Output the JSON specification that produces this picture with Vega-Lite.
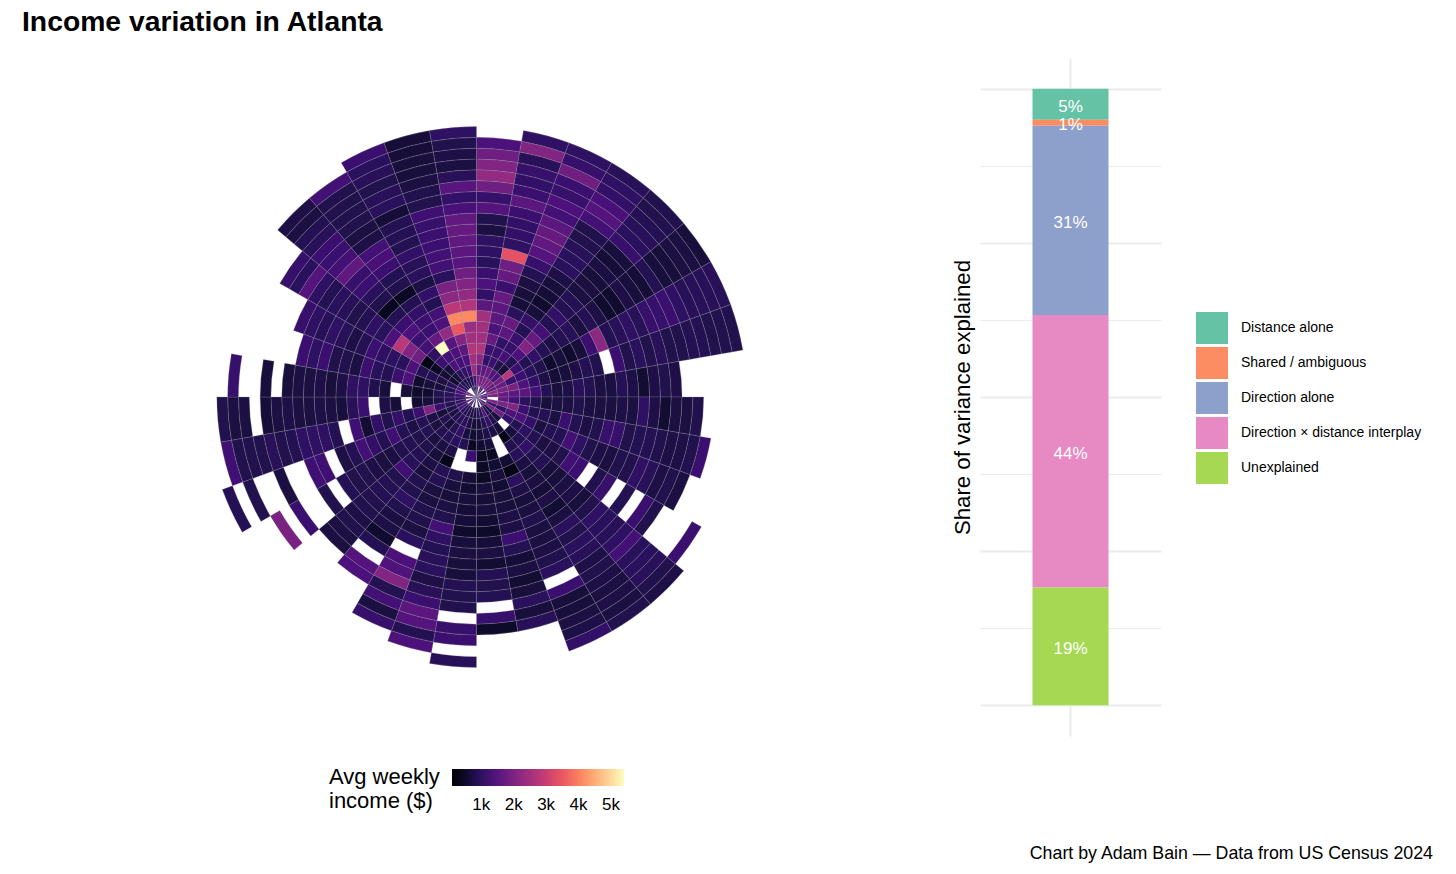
{"$schema":"https://vega.github.io/schema/vega-lite/v6.json","background":"white","padding":{"left":22,"top":7,"right":0,"bottom":0},"title":{"text":"Income variation in Atlanta","anchor":"start","frame":"group","font":"Liberation Sans","fontSize":28.3,"fontWeight":"bold","color":"#000000","offset":21},"config":{"view":{"stroke":null},"font":"Liberation Sans"},"hconcat":[{"width":909,"height":678,"data":{"values":[
{"dir":0,"ring":0,"inc":1360},{"dir":0,"ring":1,"inc":1960},{"dir":0,"ring":2,"inc":1700},{"dir":0,"ring":3,"inc":2200},{"dir":0,"ring":4,"inc":2700},{"dir":0,"ring":5,"inc":2500},{"dir":0,"ring":6,"inc":2500},{"dir":0,"ring":7,"inc":2500},{"dir":0,"ring":8,"inc":1580},{"dir":0,"ring":9,"inc":1060},{"dir":0,"ring":10,"inc":1360},{"dir":0,"ring":11,"inc":1160},{"dir":0,"ring":12,"inc":960},{"dir":0,"ring":13,"inc":1010},{"dir":0,"ring":14,"inc":1010},{"dir":0,"ring":15,"inc":720},{"dir":0,"ring":16,"inc":820},{"dir":0,"ring":17,"inc":1480},{"dir":0,"ring":18,"inc":1110},{"dir":0,"ring":19,"inc":1830},{"dir":0,"ring":20,"inc":2300},{"dir":0,"ring":21,"inc":2080},{"dir":0,"ring":22,"inc":1830},{"dir":0,"ring":23,"inc":1360},
{"dir":1,"ring":1,"inc":1830},{"dir":1,"ring":2,"inc":1580},{"dir":1,"ring":3,"inc":1060},{"dir":1,"ring":4,"inc":1160},{"dir":1,"ring":5,"inc":1700},{"dir":1,"ring":6,"inc":1360},{"dir":1,"ring":7,"inc":1580},{"dir":1,"ring":8,"inc":1580},{"dir":1,"ring":9,"inc":1700},{"dir":1,"ring":10,"inc":1160},{"dir":1,"ring":11,"inc":1700},{"dir":1,"ring":12,"inc":1830},{"dir":1,"ring":13,"inc":3400},{"dir":1,"ring":14,"inc":1010},{"dir":1,"ring":15,"inc":1060},{"dir":1,"ring":16,"inc":1060},{"dir":1,"ring":17,"inc":1160},{"dir":1,"ring":18,"inc":1580},{"dir":1,"ring":19,"inc":1160},{"dir":1,"ring":20,"inc":1060},{"dir":1,"ring":21,"inc":1110},{"dir":1,"ring":22,"inc":920},{"dir":1,"ring":23,"inc":2080},{"dir":1,"ring":24,"inc":1010},
{"dir":2,"ring":0,"inc":1360},{"dir":2,"ring":1,"inc":1960},{"dir":2,"ring":2,"inc":1700},{"dir":2,"ring":3,"inc":1160},{"dir":2,"ring":4,"inc":1160},{"dir":2,"ring":5,"inc":1060},{"dir":2,"ring":6,"inc":1580},{"dir":2,"ring":7,"inc":1700},{"dir":2,"ring":8,"inc":960},{"dir":2,"ring":9,"inc":640},{"dir":2,"ring":10,"inc":680},{"dir":2,"ring":11,"inc":720},{"dir":2,"ring":12,"inc":870},{"dir":2,"ring":13,"inc":1110},{"dir":2,"ring":14,"inc":1480},{"dir":2,"ring":15,"inc":1640},{"dir":2,"ring":16,"inc":1700},{"dir":2,"ring":17,"inc":1580},{"dir":2,"ring":18,"inc":1260},{"dir":2,"ring":19,"inc":1360},{"dir":2,"ring":20,"inc":1110},{"dir":2,"ring":21,"inc":1160},{"dir":2,"ring":22,"inc":1830},{"dir":2,"ring":23,"inc":1110},{"dir":2,"ring":24,"inc":1010},
{"dir":3,"ring":0,"inc":1060},{"dir":3,"ring":1,"inc":1960},{"dir":3,"ring":2,"inc":1480},{"dir":3,"ring":3,"inc":820},{"dir":3,"ring":4,"inc":1260},{"dir":3,"ring":5,"inc":1110},{"dir":3,"ring":6,"inc":1160},{"dir":3,"ring":7,"inc":870},{"dir":3,"ring":8,"inc":1060},{"dir":3,"ring":9,"inc":680},{"dir":3,"ring":10,"inc":560},{"dir":3,"ring":11,"inc":640},{"dir":3,"ring":12,"inc":680},{"dir":3,"ring":13,"inc":770},{"dir":3,"ring":14,"inc":960},{"dir":3,"ring":15,"inc":960},{"dir":3,"ring":16,"inc":920},{"dir":3,"ring":17,"inc":820},{"dir":3,"ring":18,"inc":820},{"dir":3,"ring":19,"inc":1260},{"dir":3,"ring":20,"inc":1480},{"dir":3,"ring":21,"inc":1310},{"dir":3,"ring":22,"inc":1060},{"dir":3,"ring":23,"inc":1010},{"dir":3,"ring":24,"inc":920},
{"dir":4,"ring":1,"inc":1960},{"dir":4,"ring":2,"inc":1360},{"dir":4,"ring":3,"inc":680},{"dir":4,"ring":4,"inc":870},{"dir":4,"ring":5,"inc":1360},{"dir":4,"ring":6,"inc":2080},{"dir":4,"ring":7,"inc":1700},{"dir":4,"ring":8,"inc":1260},{"dir":4,"ring":9,"inc":870},{"dir":4,"ring":10,"inc":1060},{"dir":4,"ring":11,"inc":870},{"dir":4,"ring":12,"inc":870},{"dir":4,"ring":13,"inc":720},{"dir":4,"ring":14,"inc":720},{"dir":4,"ring":15,"inc":680},{"dir":4,"ring":16,"inc":720},{"dir":4,"ring":17,"inc":640},{"dir":4,"ring":18,"inc":680},{"dir":4,"ring":19,"inc":1110},{"dir":4,"ring":20,"inc":960},{"dir":4,"ring":21,"inc":920},{"dir":4,"ring":22,"inc":870},{"dir":4,"ring":23,"inc":820},{"dir":4,"ring":24,"inc":820},
{"dir":5,"ring":0,"inc":1360},{"dir":5,"ring":1,"inc":1700},{"dir":5,"ring":2,"inc":1830},{"dir":5,"ring":3,"inc":2800},{"dir":5,"ring":4,"inc":1160},{"dir":5,"ring":5,"inc":870},{"dir":5,"ring":6,"inc":1060},{"dir":5,"ring":7,"inc":870},{"dir":5,"ring":8,"inc":770},{"dir":5,"ring":9,"inc":870},{"dir":5,"ring":10,"inc":920},{"dir":5,"ring":11,"inc":720},{"dir":5,"ring":12,"inc":870},{"dir":5,"ring":13,"inc":770},{"dir":5,"ring":14,"inc":560},{"dir":5,"ring":15,"inc":560},{"dir":5,"ring":16,"inc":770},{"dir":5,"ring":17,"inc":680},{"dir":5,"ring":18,"inc":640},{"dir":5,"ring":19,"inc":870},{"dir":5,"ring":20,"inc":680},{"dir":5,"ring":21,"inc":680},{"dir":5,"ring":22,"inc":720},{"dir":5,"ring":23,"inc":720},{"dir":5,"ring":24,"inc":680},
{"dir":6,"ring":1,"inc":1700},{"dir":6,"ring":2,"inc":1700},{"dir":6,"ring":3,"inc":1160},{"dir":6,"ring":4,"inc":1160},{"dir":6,"ring":5,"inc":960},{"dir":6,"ring":6,"inc":820},{"dir":6,"ring":7,"inc":560},{"dir":6,"ring":8,"inc":680},{"dir":6,"ring":9,"inc":560},{"dir":6,"ring":10,"inc":680},{"dir":6,"ring":11,"inc":1160},{"dir":6,"ring":12,"inc":2200},{"dir":6,"ring":13,"inc":870},{"dir":6,"ring":14,"inc":920},{"dir":6,"ring":15,"inc":1010},{"dir":6,"ring":16,"inc":920},{"dir":6,"ring":17,"inc":1110},{"dir":6,"ring":18,"inc":1110},{"dir":6,"ring":19,"inc":1160},{"dir":6,"ring":20,"inc":1010},{"dir":6,"ring":21,"inc":920},{"dir":6,"ring":22,"inc":920},{"dir":6,"ring":23,"inc":920},{"dir":6,"ring":24,"inc":920},
{"dir":7,"ring":0,"inc":1360},{"dir":7,"ring":1,"inc":2200},{"dir":7,"ring":2,"inc":1960},{"dir":7,"ring":3,"inc":1960},{"dir":7,"ring":4,"inc":1360},{"dir":7,"ring":5,"inc":1060},{"dir":7,"ring":6,"inc":770},{"dir":7,"ring":7,"inc":640},{"dir":7,"ring":8,"inc":680},{"dir":7,"ring":9,"inc":770},{"dir":7,"ring":10,"inc":870},{"dir":7,"ring":11,"inc":820},{"dir":7,"ring":13,"inc":1160},{"dir":7,"ring":14,"inc":820},{"dir":7,"ring":15,"inc":960},{"dir":7,"ring":16,"inc":820},{"dir":7,"ring":17,"inc":920},{"dir":7,"ring":18,"inc":820},{"dir":7,"ring":19,"inc":820},{"dir":7,"ring":20,"inc":870},{"dir":7,"ring":21,"inc":870},{"dir":7,"ring":22,"inc":820},{"dir":7,"ring":23,"inc":820},{"dir":7,"ring":24,"inc":820},
{"dir":8,"ring":0,"inc":1580},{"dir":8,"ring":1,"inc":1960},{"dir":8,"ring":2,"inc":1700},{"dir":8,"ring":3,"inc":1580},{"dir":8,"ring":4,"inc":1580},{"dir":8,"ring":5,"inc":1260},{"dir":8,"ring":6,"inc":870},{"dir":8,"ring":7,"inc":680},{"dir":8,"ring":8,"inc":770},{"dir":8,"ring":9,"inc":920},{"dir":8,"ring":10,"inc":870},{"dir":8,"ring":11,"inc":720},{"dir":8,"ring":12,"inc":720},{"dir":8,"ring":13,"inc":870},{"dir":8,"ring":14,"inc":770},{"dir":8,"ring":15,"inc":600},{"dir":8,"ring":16,"inc":770},{"dir":8,"ring":17,"inc":820},{"dir":8,"ring":18,"inc":770},
{"dir":9,"ring":0,"inc":1360},{"dir":9,"ring":2,"inc":1700},{"dir":9,"ring":3,"inc":1260},{"dir":9,"ring":4,"inc":960},{"dir":9,"ring":5,"inc":820},{"dir":9,"ring":6,"inc":680},{"dir":9,"ring":7,"inc":720},{"dir":9,"ring":8,"inc":720},{"dir":9,"ring":9,"inc":820},{"dir":9,"ring":10,"inc":720},{"dir":9,"ring":11,"inc":720},{"dir":9,"ring":12,"inc":720},{"dir":9,"ring":13,"inc":770},{"dir":9,"ring":14,"inc":720},{"dir":9,"ring":15,"inc":1010},{"dir":9,"ring":16,"inc":770},{"dir":9,"ring":17,"inc":600},{"dir":9,"ring":18,"inc":720},{"dir":9,"ring":19,"inc":720},{"dir":9,"ring":20,"inc":820},
{"dir":10,"ring":0,"inc":1700},{"dir":10,"ring":1,"inc":1960},{"dir":10,"ring":2,"inc":1960},{"dir":10,"ring":3,"inc":2080},{"dir":10,"ring":4,"inc":1160},{"dir":10,"ring":5,"inc":870},{"dir":10,"ring":6,"inc":870},{"dir":10,"ring":7,"inc":720},{"dir":10,"ring":8,"inc":1160},{"dir":10,"ring":9,"inc":870},{"dir":10,"ring":10,"inc":770},{"dir":10,"ring":11,"inc":820},{"dir":10,"ring":12,"inc":1110},{"dir":10,"ring":13,"inc":1110},{"dir":10,"ring":14,"inc":820},{"dir":10,"ring":15,"inc":870},{"dir":10,"ring":16,"inc":870},{"dir":10,"ring":17,"inc":820},{"dir":10,"ring":18,"inc":770},{"dir":10,"ring":19,"inc":770},{"dir":10,"ring":20,"inc":820},{"dir":10,"ring":21,"inc":1160},
{"dir":11,"ring":1,"inc":1160},{"dir":11,"ring":2,"inc":1060},{"dir":11,"ring":3,"inc":1360},{"dir":11,"ring":4,"inc":1360},{"dir":11,"ring":5,"inc":1060},{"dir":11,"ring":6,"inc":720},{"dir":11,"ring":7,"inc":870},{"dir":11,"ring":8,"inc":870},{"dir":11,"ring":9,"inc":1260},{"dir":11,"ring":10,"inc":1010},{"dir":11,"ring":11,"inc":820},{"dir":11,"ring":12,"inc":770},{"dir":11,"ring":13,"inc":720},{"dir":11,"ring":14,"inc":820},{"dir":11,"ring":15,"inc":820},{"dir":11,"ring":16,"inc":1010},{"dir":11,"ring":17,"inc":920},{"dir":11,"ring":18,"inc":770},{"dir":11,"ring":19,"inc":820},{"dir":11,"ring":20,"inc":720},
{"dir":12,"ring":0,"inc":1060},{"dir":12,"ring":1,"inc":1960},{"dir":12,"ring":2,"inc":1830},{"dir":12,"ring":3,"inc":1060},{"dir":12,"ring":4,"inc":870},{"dir":12,"ring":5,"inc":1010},{"dir":12,"ring":6,"inc":870},{"dir":12,"ring":7,"inc":720},{"dir":12,"ring":8,"inc":770},{"dir":12,"ring":9,"inc":820},{"dir":12,"ring":10,"inc":1210},{"dir":12,"ring":11,"inc":1160},{"dir":12,"ring":13,"inc":820},{"dir":12,"ring":14,"inc":1110},{"dir":12,"ring":16,"inc":870},{"dir":12,"ring":18,"inc":1160},{"dir":12,"ring":19,"inc":820},{"dir":12,"ring":23,"inc":1160},
{"dir":13,"ring":0,"inc":1700},{"dir":13,"ring":1,"inc":770},{"dir":13,"ring":2,"inc":680},{"dir":13,"ring":4,"inc":680},{"dir":13,"ring":5,"inc":870},{"dir":13,"ring":6,"inc":1060},{"dir":13,"ring":7,"inc":820},{"dir":13,"ring":8,"inc":870},{"dir":13,"ring":9,"inc":680},{"dir":13,"ring":10,"inc":680},{"dir":13,"ring":11,"inc":720},{"dir":13,"ring":12,"inc":770},{"dir":13,"ring":13,"inc":680},{"dir":13,"ring":14,"inc":820},{"dir":13,"ring":15,"inc":1010},{"dir":13,"ring":16,"inc":960},{"dir":13,"ring":17,"inc":920},{"dir":13,"ring":18,"inc":1010},{"dir":13,"ring":19,"inc":1260},{"dir":13,"ring":20,"inc":960},{"dir":13,"ring":21,"inc":960},{"dir":13,"ring":22,"inc":920},{"dir":13,"ring":23,"inc":820},{"dir":13,"ring":24,"inc":770},
{"dir":14,"ring":0,"inc":1160},{"dir":14,"ring":1,"inc":870},{"dir":14,"ring":2,"inc":870},{"dir":14,"ring":3,"inc":640},{"dir":14,"ring":4,"inc":300},{"dir":14,"ring":5,"inc":820},{"dir":14,"ring":6,"inc":920},{"dir":14,"ring":7,"inc":720},{"dir":14,"ring":8,"inc":680},{"dir":14,"ring":9,"inc":720},{"dir":14,"ring":10,"inc":640},{"dir":14,"ring":11,"inc":770},{"dir":14,"ring":12,"inc":600},{"dir":14,"ring":13,"inc":720},{"dir":14,"ring":14,"inc":960},{"dir":14,"ring":15,"inc":820},{"dir":14,"ring":16,"inc":960},{"dir":14,"ring":17,"inc":920},{"dir":14,"ring":18,"inc":770},{"dir":14,"ring":19,"inc":820},{"dir":14,"ring":20,"inc":770},{"dir":14,"ring":21,"inc":720},{"dir":14,"ring":22,"inc":770},{"dir":14,"ring":23,"inc":720},{"dir":14,"ring":24,"inc":820},
{"dir":15,"ring":1,"inc":1480},{"dir":15,"ring":2,"inc":1060},{"dir":15,"ring":3,"inc":770},{"dir":15,"ring":6,"inc":600},{"dir":15,"ring":7,"inc":300},{"dir":15,"ring":8,"inc":960},{"dir":15,"ring":9,"inc":770},{"dir":15,"ring":10,"inc":680},{"dir":15,"ring":11,"inc":720},{"dir":15,"ring":12,"inc":820},{"dir":15,"ring":13,"inc":720},{"dir":15,"ring":14,"inc":720},{"dir":15,"ring":15,"inc":770},{"dir":15,"ring":16,"inc":820},{"dir":15,"ring":17,"inc":960},{"dir":15,"ring":19,"inc":1160},{"dir":15,"ring":20,"inc":680},{"dir":15,"ring":21,"inc":680},{"dir":15,"ring":22,"inc":720},{"dir":15,"ring":23,"inc":770},{"dir":15,"ring":24,"inc":1060},
{"dir":16,"ring":0,"inc":870},{"dir":16,"ring":1,"inc":870},{"dir":16,"ring":2,"inc":870},{"dir":16,"ring":3,"inc":770},{"dir":16,"ring":4,"inc":680},{"dir":16,"ring":5,"inc":450},{"dir":16,"ring":6,"inc":600},{"dir":16,"ring":7,"inc":680},{"dir":16,"ring":8,"inc":600},{"dir":16,"ring":9,"inc":680},{"dir":16,"ring":10,"inc":680},{"dir":16,"ring":11,"inc":770},{"dir":16,"ring":12,"inc":770},{"dir":16,"ring":13,"inc":1160},{"dir":16,"ring":14,"inc":870},{"dir":16,"ring":15,"inc":640},{"dir":16,"ring":16,"inc":720},{"dir":16,"ring":17,"inc":600},{"dir":16,"ring":18,"inc":680},{"dir":16,"ring":19,"inc":960},{"dir":16,"ring":20,"inc":680},{"dir":16,"ring":21,"inc":920},
{"dir":17,"ring":1,"inc":960},{"dir":17,"ring":2,"inc":680},{"dir":17,"ring":3,"inc":680},{"dir":17,"ring":4,"inc":600},{"dir":17,"ring":5,"inc":450},{"dir":17,"ring":6,"inc":450},{"dir":17,"ring":7,"inc":450},{"dir":17,"ring":8,"inc":680},{"dir":17,"ring":9,"inc":640},{"dir":17,"ring":10,"inc":680},{"dir":17,"ring":11,"inc":600},{"dir":17,"ring":12,"inc":500},{"dir":17,"ring":13,"inc":640},{"dir":17,"ring":14,"inc":720},{"dir":17,"ring":15,"inc":600},{"dir":17,"ring":16,"inc":870},{"dir":17,"ring":17,"inc":820},{"dir":17,"ring":18,"inc":870},{"dir":17,"ring":20,"inc":1110},{"dir":17,"ring":21,"inc":500},
{"dir":18,"ring":1,"inc":770},{"dir":18,"ring":2,"inc":640},{"dir":18,"ring":3,"inc":600},{"dir":18,"ring":4,"inc":450},{"dir":18,"ring":5,"inc":1160},{"dir":18,"ring":7,"inc":640},{"dir":18,"ring":8,"inc":600},{"dir":18,"ring":9,"inc":680},{"dir":18,"ring":10,"inc":640},{"dir":18,"ring":11,"inc":640},{"dir":18,"ring":12,"inc":520},{"dir":18,"ring":13,"inc":680},{"dir":18,"ring":14,"inc":720},{"dir":18,"ring":15,"inc":680},{"dir":18,"ring":16,"inc":680},{"dir":18,"ring":17,"inc":870},{"dir":18,"ring":18,"inc":820},{"dir":18,"ring":19,"inc":820},{"dir":18,"ring":21,"inc":1110},{"dir":18,"ring":22,"inc":1160},{"dir":18,"ring":24,"inc":920},
{"dir":19,"ring":0,"inc":960},{"dir":19,"ring":1,"inc":770},{"dir":19,"ring":2,"inc":770},{"dir":19,"ring":3,"inc":680},{"dir":19,"ring":4,"inc":870},{"dir":19,"ring":7,"inc":820},{"dir":19,"ring":8,"inc":680},{"dir":19,"ring":9,"inc":680},{"dir":19,"ring":10,"inc":720},{"dir":19,"ring":11,"inc":820},{"dir":19,"ring":12,"inc":1260},{"dir":19,"ring":13,"inc":1010},{"dir":19,"ring":14,"inc":870},{"dir":19,"ring":15,"inc":920},{"dir":19,"ring":16,"inc":960},{"dir":19,"ring":17,"inc":770},{"dir":19,"ring":18,"inc":920},{"dir":19,"ring":19,"inc":1160},{"dir":19,"ring":20,"inc":1580},{"dir":19,"ring":21,"inc":1480},{"dir":19,"ring":22,"inc":870},{"dir":19,"ring":23,"inc":1360},
{"dir":20,"ring":1,"inc":870},{"dir":20,"ring":2,"inc":960},{"dir":20,"ring":3,"inc":1060},{"dir":20,"ring":4,"inc":960},{"dir":20,"ring":5,"inc":770},{"dir":20,"ring":6,"inc":350},{"dir":20,"ring":7,"inc":870},{"dir":20,"ring":8,"inc":870},{"dir":20,"ring":9,"inc":720},{"dir":20,"ring":10,"inc":720},{"dir":20,"ring":11,"inc":820},{"dir":20,"ring":12,"inc":820},{"dir":20,"ring":13,"inc":720},{"dir":20,"ring":14,"inc":960},{"dir":20,"ring":16,"inc":1360},{"dir":20,"ring":17,"inc":1420},{"dir":20,"ring":18,"inc":2080},{"dir":20,"ring":19,"inc":870},{"dir":20,"ring":20,"inc":1260},{"dir":20,"ring":21,"inc":720},{"dir":20,"ring":22,"inc":1110},
{"dir":21,"ring":0,"inc":1160},{"dir":21,"ring":1,"inc":870},{"dir":21,"ring":2,"inc":960},{"dir":21,"ring":3,"inc":870},{"dir":21,"ring":4,"inc":870},{"dir":21,"ring":5,"inc":720},{"dir":21,"ring":6,"inc":680},{"dir":21,"ring":7,"inc":770},{"dir":21,"ring":8,"inc":680},{"dir":21,"ring":9,"inc":820},{"dir":21,"ring":10,"inc":820},{"dir":21,"ring":11,"inc":1010},{"dir":21,"ring":12,"inc":820},{"dir":21,"ring":13,"inc":720},{"dir":21,"ring":14,"inc":770},{"dir":21,"ring":15,"inc":560},{"dir":21,"ring":16,"inc":870},{"dir":21,"ring":18,"inc":1480},{"dir":21,"ring":19,"inc":1360},
{"dir":22,"ring":0,"inc":1360},{"dir":22,"ring":1,"inc":960},{"dir":22,"ring":2,"inc":870},{"dir":22,"ring":3,"inc":680},{"dir":22,"ring":4,"inc":870},{"dir":22,"ring":5,"inc":720},{"dir":22,"ring":6,"inc":820},{"dir":22,"ring":7,"inc":870},{"dir":22,"ring":8,"inc":920},{"dir":22,"ring":9,"inc":1210},{"dir":22,"ring":10,"inc":820},{"dir":22,"ring":11,"inc":870},{"dir":22,"ring":12,"inc":870},{"dir":22,"ring":13,"inc":820},{"dir":22,"ring":14,"inc":820},{"dir":22,"ring":15,"inc":770},{"dir":22,"ring":16,"inc":820},{"dir":22,"ring":17,"inc":720},{"dir":22,"ring":18,"inc":720},
{"dir":23,"ring":1,"inc":1360},{"dir":23,"ring":2,"inc":770},{"dir":23,"ring":3,"inc":870},{"dir":23,"ring":4,"inc":720},{"dir":23,"ring":5,"inc":870},{"dir":23,"ring":6,"inc":820},{"dir":23,"ring":7,"inc":870},{"dir":23,"ring":8,"inc":820},{"dir":23,"ring":9,"inc":720},{"dir":23,"ring":10,"inc":720},{"dir":23,"ring":11,"inc":770},{"dir":23,"ring":12,"inc":820},{"dir":23,"ring":13,"inc":820},{"dir":23,"ring":14,"inc":870},{"dir":23,"ring":16,"inc":820},{"dir":23,"ring":19,"inc":1160},{"dir":23,"ring":21,"inc":1960},
{"dir":24,"ring":0,"inc":1160},{"dir":24,"ring":1,"inc":1060},{"dir":24,"ring":2,"inc":820},{"dir":24,"ring":3,"inc":680},{"dir":24,"ring":4,"inc":770},{"dir":24,"ring":5,"inc":870},{"dir":24,"ring":6,"inc":770},{"dir":24,"ring":7,"inc":870},{"dir":24,"ring":8,"inc":1210},{"dir":24,"ring":9,"inc":870},{"dir":24,"ring":10,"inc":1060},{"dir":24,"ring":11,"inc":1260},{"dir":24,"ring":12,"inc":870},{"dir":24,"ring":13,"inc":770},{"dir":24,"ring":15,"inc":1210},{"dir":24,"ring":16,"inc":1210},{"dir":24,"ring":19,"inc":720},{"dir":24,"ring":22,"inc":820},{"dir":24,"ring":24,"inc":870},
{"dir":25,"ring":1,"inc":1060},{"dir":25,"ring":2,"inc":870},{"dir":25,"ring":3,"inc":1160},{"dir":25,"ring":4,"inc":2080},{"dir":25,"ring":5,"inc":1160},{"dir":25,"ring":6,"inc":870},{"dir":25,"ring":7,"inc":1060},{"dir":25,"ring":8,"inc":820},{"dir":25,"ring":9,"inc":1060},{"dir":25,"ring":10,"inc":600},{"dir":25,"ring":11,"inc":1210},{"dir":25,"ring":13,"inc":870},{"dir":25,"ring":14,"inc":1010},{"dir":25,"ring":15,"inc":1010},{"dir":25,"ring":16,"inc":1010},{"dir":25,"ring":17,"inc":870},{"dir":25,"ring":18,"inc":820},{"dir":25,"ring":19,"inc":920},{"dir":25,"ring":20,"inc":820},{"dir":25,"ring":21,"inc":820},{"dir":25,"ring":22,"inc":820},{"dir":25,"ring":23,"inc":1210},
{"dir":26,"ring":0,"inc":1360},{"dir":26,"ring":1,"inc":1060},{"dir":26,"ring":2,"inc":960},{"dir":26,"ring":3,"inc":770},{"dir":26,"ring":4,"inc":680},{"dir":26,"ring":5,"inc":600},{"dir":26,"ring":7,"inc":640},{"dir":26,"ring":8,"inc":770},{"dir":26,"ring":10,"inc":1160},{"dir":26,"ring":11,"inc":920},{"dir":26,"ring":12,"inc":680},{"dir":26,"ring":13,"inc":720},{"dir":26,"ring":14,"inc":770},{"dir":26,"ring":15,"inc":720},{"dir":26,"ring":16,"inc":720},{"dir":26,"ring":17,"inc":770},{"dir":26,"ring":18,"inc":720},{"dir":26,"ring":19,"inc":640},{"dir":26,"ring":21,"inc":720},{"dir":26,"ring":22,"inc":720},{"dir":26,"ring":23,"inc":820},
{"dir":27,"ring":1,"inc":1160},{"dir":27,"ring":2,"inc":960},{"dir":27,"ring":3,"inc":870},{"dir":27,"ring":4,"inc":560},{"dir":27,"ring":5,"inc":520},{"dir":27,"ring":6,"inc":680},{"dir":27,"ring":8,"inc":680},{"dir":27,"ring":9,"inc":820},{"dir":27,"ring":10,"inc":1010},{"dir":27,"ring":11,"inc":1010},{"dir":27,"ring":12,"inc":770},{"dir":27,"ring":13,"inc":680},{"dir":27,"ring":14,"inc":770},{"dir":27,"ring":15,"inc":720},{"dir":27,"ring":16,"inc":720},{"dir":27,"ring":17,"inc":680},{"dir":27,"ring":19,"inc":680},{"dir":27,"ring":22,"inc":1110},
{"dir":28,"ring":0,"inc":1700},{"dir":28,"ring":1,"inc":1260},{"dir":28,"ring":2,"inc":870},{"dir":28,"ring":3,"inc":680},{"dir":28,"ring":4,"inc":680},{"dir":28,"ring":5,"inc":560},{"dir":28,"ring":6,"inc":1360},{"dir":28,"ring":7,"inc":1160},{"dir":28,"ring":8,"inc":870},{"dir":28,"ring":9,"inc":960},{"dir":28,"ring":10,"inc":1160},{"dir":28,"ring":11,"inc":720},{"dir":28,"ring":12,"inc":820},{"dir":28,"ring":13,"inc":820},{"dir":28,"ring":14,"inc":1160},{"dir":28,"ring":15,"inc":1010},{"dir":28,"ring":16,"inc":1160},
{"dir":29,"ring":0,"inc":1700},{"dir":29,"ring":1,"inc":1360},{"dir":29,"ring":2,"inc":960},{"dir":29,"ring":3,"inc":770},{"dir":29,"ring":4,"inc":870},{"dir":29,"ring":5,"inc":870},{"dir":29,"ring":6,"inc":1360},{"dir":29,"ring":7,"inc":960},{"dir":29,"ring":8,"inc":1010},{"dir":29,"ring":9,"inc":1010},{"dir":29,"ring":10,"inc":1160},{"dir":29,"ring":11,"inc":870},{"dir":29,"ring":12,"inc":770},{"dir":29,"ring":13,"inc":920},{"dir":29,"ring":14,"inc":1010},{"dir":29,"ring":15,"inc":920},{"dir":29,"ring":16,"inc":1010},{"dir":29,"ring":17,"inc":1110},
{"dir":30,"ring":1,"inc":1060},{"dir":30,"ring":2,"inc":600},{"dir":30,"ring":3,"inc":640},{"dir":30,"ring":4,"inc":450},{"dir":30,"ring":5,"inc":300},{"dir":30,"ring":6,"inc":1830},{"dir":30,"ring":7,"inc":2080},{"dir":30,"ring":8,"inc":2800},{"dir":30,"ring":9,"inc":1360},{"dir":30,"ring":10,"inc":960},{"dir":30,"ring":11,"inc":1010},{"dir":30,"ring":12,"inc":870},{"dir":30,"ring":13,"inc":820},{"dir":30,"ring":14,"inc":920},{"dir":30,"ring":15,"inc":960},{"dir":30,"ring":16,"inc":870},{"dir":30,"ring":17,"inc":1010},{"dir":30,"ring":18,"inc":1480},{"dir":30,"ring":19,"inc":960},{"dir":30,"ring":20,"inc":1110},
{"dir":31,"ring":1,"inc":870},{"dir":31,"ring":2,"inc":680},{"dir":31,"ring":3,"inc":680},{"dir":31,"ring":4,"inc":1160},{"dir":31,"ring":5,"inc":1010},{"dir":31,"ring":6,"inc":1260},{"dir":31,"ring":7,"inc":1160},{"dir":31,"ring":8,"inc":1360},{"dir":31,"ring":9,"inc":1160},{"dir":31,"ring":10,"inc":870},{"dir":31,"ring":11,"inc":400},{"dir":31,"ring":12,"inc":820},{"dir":31,"ring":13,"inc":960},{"dir":31,"ring":14,"inc":1160},{"dir":31,"ring":15,"inc":1110},{"dir":31,"ring":16,"inc":1640},{"dir":31,"ring":17,"inc":1260},{"dir":31,"ring":18,"inc":1160},{"dir":31,"ring":19,"inc":1160},{"dir":31,"ring":20,"inc":920},{"dir":31,"ring":21,"inc":870},{"dir":31,"ring":22,"inc":720},{"dir":31,"ring":23,"inc":770},
{"dir":32,"ring":1,"inc":870},{"dir":32,"ring":2,"inc":960},{"dir":32,"ring":3,"inc":1360},{"dir":32,"ring":4,"inc":1260},{"dir":32,"ring":5,"inc":5400},{"dir":32,"ring":6,"inc":1700},{"dir":32,"ring":7,"inc":1160},{"dir":32,"ring":8,"inc":1160},{"dir":32,"ring":9,"inc":1060},{"dir":32,"ring":10,"inc":870},{"dir":32,"ring":11,"inc":450},{"dir":32,"ring":12,"inc":820},{"dir":32,"ring":13,"inc":870},{"dir":32,"ring":14,"inc":1160},{"dir":32,"ring":15,"inc":1310},{"dir":32,"ring":16,"inc":1260},{"dir":32,"ring":17,"inc":770},{"dir":32,"ring":18,"inc":720},{"dir":32,"ring":19,"inc":820},{"dir":32,"ring":20,"inc":820},{"dir":32,"ring":21,"inc":820},{"dir":32,"ring":22,"inc":820},{"dir":32,"ring":23,"inc":1260},
{"dir":33,"ring":0,"inc":870},{"dir":33,"ring":1,"inc":870},{"dir":33,"ring":2,"inc":1060},{"dir":33,"ring":3,"inc":1260},{"dir":33,"ring":4,"inc":1360},{"dir":33,"ring":5,"inc":1480},{"dir":33,"ring":6,"inc":2300},{"dir":33,"ring":7,"inc":1360},{"dir":33,"ring":8,"inc":1260},{"dir":33,"ring":9,"inc":870},{"dir":33,"ring":10,"inc":1060},{"dir":33,"ring":11,"inc":770},{"dir":33,"ring":12,"inc":960},{"dir":33,"ring":13,"inc":920},{"dir":33,"ring":14,"inc":1060},{"dir":33,"ring":15,"inc":870},{"dir":33,"ring":16,"inc":870},{"dir":33,"ring":17,"inc":870},{"dir":33,"ring":18,"inc":640},{"dir":33,"ring":19,"inc":960},{"dir":33,"ring":20,"inc":920},{"dir":33,"ring":21,"inc":820},{"dir":33,"ring":22,"inc":920},{"dir":33,"ring":23,"inc":960},{"dir":33,"ring":24,"inc":1160},
{"dir":34,"ring":0,"inc":1060},{"dir":34,"ring":1,"inc":870},{"dir":34,"ring":2,"inc":1160},{"dir":34,"ring":3,"inc":1360},{"dir":34,"ring":4,"inc":1580},{"dir":34,"ring":5,"inc":2080},{"dir":34,"ring":6,"inc":3500},{"dir":34,"ring":7,"inc":4100},{"dir":34,"ring":8,"inc":2800},{"dir":34,"ring":9,"inc":2200},{"dir":34,"ring":10,"inc":1960},{"dir":34,"ring":11,"inc":960},{"dir":34,"ring":12,"inc":1260},{"dir":34,"ring":13,"inc":1260},{"dir":34,"ring":14,"inc":1160},{"dir":34,"ring":15,"inc":1160},{"dir":34,"ring":16,"inc":1110},{"dir":34,"ring":17,"inc":1210},{"dir":34,"ring":18,"inc":820},{"dir":34,"ring":19,"inc":820},{"dir":34,"ring":20,"inc":720},{"dir":34,"ring":21,"inc":680},{"dir":34,"ring":22,"inc":680},{"dir":34,"ring":23,"inc":640},{"dir":34,"ring":24,"inc":640},
{"dir":35,"ring":0,"inc":870},{"dir":35,"ring":1,"inc":1360},{"dir":35,"ring":2,"inc":2400},{"dir":35,"ring":3,"inc":2500},{"dir":35,"ring":4,"inc":2700},{"dir":35,"ring":5,"inc":2500},{"dir":35,"ring":6,"inc":2400},{"dir":35,"ring":7,"inc":4100},{"dir":35,"ring":8,"inc":2700},{"dir":35,"ring":9,"inc":2300},{"dir":35,"ring":10,"inc":2080},{"dir":35,"ring":11,"inc":1830},{"dir":35,"ring":12,"inc":1530},{"dir":35,"ring":13,"inc":1580},{"dir":35,"ring":14,"inc":1640},{"dir":35,"ring":15,"inc":1700},{"dir":35,"ring":16,"inc":1640},{"dir":35,"ring":17,"inc":1310},{"dir":35,"ring":18,"inc":1060},{"dir":35,"ring":19,"inc":1530},{"dir":35,"ring":20,"inc":920},{"dir":35,"ring":21,"inc":720},{"dir":35,"ring":22,"inc":770},{"dir":35,"ring":23,"inc":820},{"dir":35,"ring":24,"inc":1010}
]},"mark":{"type":"arc","stroke":"#8f8a9c","strokeWidth":0.35,"strokeOpacity":0.8},"encoding":{"theta":{"field":"dir","type":"ordinal","scale":{"type":"band","domain":[0,1,2,3,4,5,6,7,8,9,10,11,12,13,14,15,16,17,18,19,20,21,22,23,24,25,26,27,28,29,30,31,32,33,34,35],"range":[0,6.28319],"paddingInner":0,"paddingOuter":0}},"radius":{"field":"ring","type":"ordinal","scale":{"type":"band","domain":[0,1,2,3,4,5,6,7,8,9,10,11,12,13,14,15,16,17,18,19,20,21,22,23,24],"range":[0,270.5],"paddingInner":0,"paddingOuter":0}},"color":{"field":"inc","type":"quantitative","scale":{"scheme":"magma","domain":[100,5400]},"legend":{"orient":"none","legendX":307,"legendY":711,"direction":"horizontal","title":["Avg weekly","income ($)"],"titleOrient":"left","titleBaseline":"line-top","titleFontSize":22,"titleFontWeight":"normal","titleColor":"#000000","titleLimit":200,"titleLineHeight":24,"titlePadding":12,"gradientLength":172,"gradientThickness":17,"values":[1000,2000,3000,4000,5000],"labelExpr":"datum.value/1000+'k'","labelFontSize":17,"labelColor":"#000000","labelOffset":11,"labelOverlap":false}}}},{"width":181,"height":678,"title":{"text":"Chart by Adam Bain — Data from US Census 2024","orient":"bottom","anchor":"end","frame":"group","font":"Liberation Sans","fontSize":17.8,"fontWeight":"normal","color":"#000000","dx":272,"offset":109},"data":{"values":[{"part":"Distance alone","model":"share","lo":0.95,"hi":1,"mid":0.975,"label":"5%"},{"part":"Shared / ambiguous","model":"share","lo":0.94,"hi":0.95,"mid":0.945,"label":"1%"},{"part":"Direction alone","model":"share","lo":0.633,"hi":0.94,"mid":0.7865,"label":"31%"},{"part":"Direction × distance interplay","model":"share","lo":0.191,"hi":0.633,"mid":0.412,"label":"44%"},{"part":"Unexplained","model":"share","lo":0,"hi":0.191,"mid":0.0955,"label":"19%"}]},"encoding":{"x":{"field":"model","type":"nominal","axis":{"title":null,"labels":false,"ticks":false,"domain":false,"grid":true,"gridColor":"#ebebeb","gridWidth":2}}},"layer":[{"mark":{"type":"bar","size":76},"encoding":{"y":{"field":"lo","type":"quantitative","scale":{"domain":[-0.05,1.05],"nice":false,"zero":false},"axis":{"title":"Share of variance explained","titleFontSize":22.2,"titleFontWeight":"normal","titleColor":"#000000","titlePadding":6,"labels":false,"ticks":false,"domain":false,"grid":true,"gridColor":"#ebebeb","gridWidth":{"condition":{"test":"datum.value*4%1==0","value":2},"value":1},"values":[0,0.125,0.25,0.375,0.5,0.625,0.75,0.875,1]}},"y2":{"field":"hi"},"color":{"field":"part","type":"nominal","scale":{"domain":["Distance alone","Shared / ambiguous","Direction alone","Direction × distance interplay","Unexplained"],"range":["#66c2a5","#fc8d62","#8da0cb","#e78ac3","#a6d854"]},"legend":{"title":null,"orient":"none","legendX":216,"legendY":254,"symbolType":"square","symbolSize":1024,"symbolStrokeWidth":0,"symbolOpacity":1,"rowPadding":3,"labelFontSize":14,"labelColor":"#000000","labelLimit":300,"labelOffset":13}}}},{"mark":{"type":"text","color":"#ffffff","fontSize":17,"dy":2.5},"encoding":{"y":{"field":"mid","type":"quantitative"},"text":{"field":"label"}}}]}],"resolve":{"scale":{"color":"independent"}},"spacing":20}
